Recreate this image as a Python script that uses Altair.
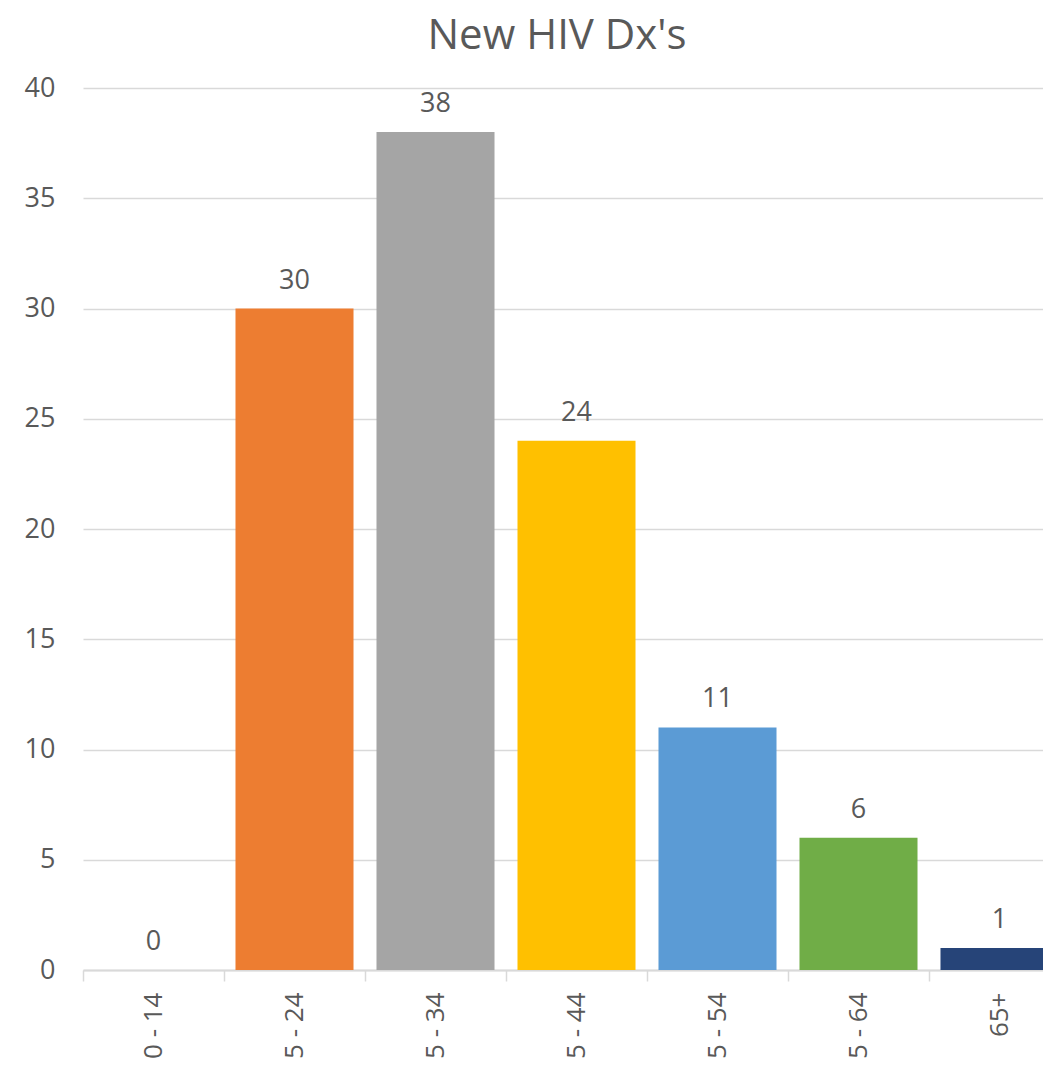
import altair as alt
import pandas as pd

categories = ["0 - 14", "15 - 24", "25 - 34", "35 - 44", "45 - 54", "55 - 64", "65+"]
values = [0, 30, 38, 24, 11, 6, 1]
colors = ["#4472C4", "#ED7D31", "#A5A5A5", "#FFC000", "#5B9BD5", "#70AD47", "#264478"]

df = pd.DataFrame({"age": categories, "count": values})

FONT = "Open Sans"
TXT = "#595959"
GRID = "#D9D9D9"
STEP = 141

x = alt.X("age:N", sort=categories,
          scale=alt.Scale(paddingInner=0.163, paddingOuter=0.0815, range=[0, STEP * len(categories)]),
          axis=alt.Axis(title=None, labelAngle=-90, labelAlign="right", labelBaseline="middle",
                        labelFontSize=26, labelFont=FONT, labelColor=TXT, labelPadding=11,
                        tickOffset=-STEP / 2, labelOffset=STEP / 2,
                        tickSize=11, tickColor=GRID, tickWidth=1.5,
                        domainColor=GRID, domainWidth=2, grid=False))
y = alt.Y("count:Q", scale=alt.Scale(domain=[0, 40], nice=False),
          axis=alt.Axis(title=None, values=[0, 5, 10, 15, 20, 25, 30, 35, 40], labelFontSize=27,
                        labelFont=FONT, labelColor=TXT, labelPadding=28, domain=False, ticks=False,
                        gridColor=GRID, gridWidth=1.3))

bars = alt.Chart(df).mark_bar().encode(
    x=x, y=y,
    color=alt.Color("age:N", sort=categories, scale=alt.Scale(domain=categories, range=colors), legend=None),
)
labels = alt.Chart(df).mark_text(dy=-20, baseline="alphabetic", fontSize=27, font=FONT, color=TXT).encode(
    x=alt.X("age:N", sort=categories), y="count:Q", text="count:Q")

chart = (bars + labels).properties(
    width=960, height=882,
    title=alt.Title("New HIV Dx's", fontSize=42, font=FONT, color=TXT, fontWeight="normal",
                    anchor="middle", dx=-6, offset=16),
    autosize=alt.AutoSizeParams(type="none"),
    padding={"left": 75, "top": 80, "right": 0, "bottom": 88},
).configure_view(stroke=None)

chart.save("out.html", embed_options={"renderer": "svg", "actions": False})
